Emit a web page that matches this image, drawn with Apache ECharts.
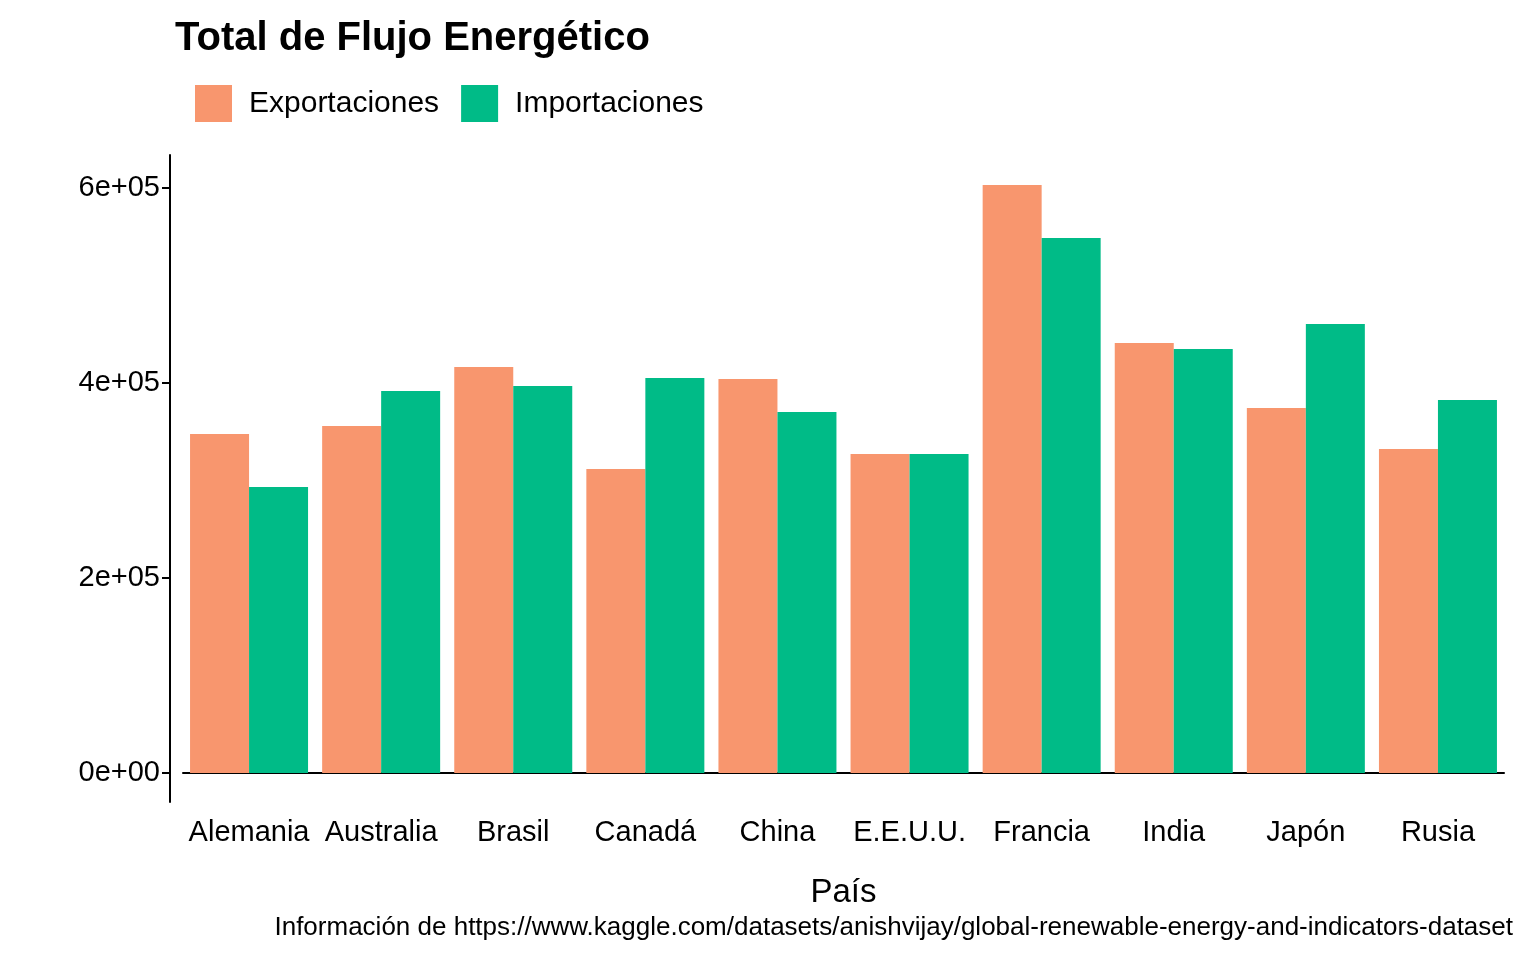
<!DOCTYPE html>
<html>
<head>
<meta charset="utf-8">
<script src="https://cdn.jsdelivr.net/npm/echarts@6/dist/echarts.min.js"></script>
<style>html,body{margin:0;background:#fff}#chart{width:1536px;height:960px}</style>
</head>
<body>
<div id="chart"></div>
<script>
// datos
const paises = ['Alemania', 'Australia', 'Brasil', 'Canadá', 'China', 'E.E.U.U.', 'Francia', 'India', 'Japón', 'Rusia']
const exportaciones = [347700, 355900, 416400, 311800, 404100, 327200, 603100, 441000, 374400, 332300]
const importaciones = [293300, 391800, 396900, 405100, 370300, 327200, 548700, 434900, 460500, 382600]
const yTicks = [0, 200000, 400000, 600000]

const font = 'Liberation Sans, Arial, sans-serif'
const chart = echarts.init(document.getElementById('chart'))

const sci = v => {
  if (v === 0) return '0e+00'
  const e = Math.floor(Math.log10(Math.abs(v)))
  const m = Math.round(v / Math.pow(10, e))
  return m + 'e+' + String(e).padStart(2, '0')
}

chart.setOption({
  animation: false,
  textStyle: { fontFamily: font, color: '#000' },
  title: [
    {
      text: 'Total de Flujo Energético', left: 170, top: 14,
      textStyle: { fontFamily: font, fontSize: 40, fontWeight: 'bold', color: '#000' }
    },
    {
      text: 'Información de https://www.kaggle.com/datasets/anishvijay/global-renewable-energy-and-indicators-dataset',
      right: 18, top: 910,
      textStyle: { fontFamily: font, fontSize: 26, fontWeight: 'normal', color: '#000' }
    }
  ],
  legend: {
    left: 190, top: 80, itemWidth: 37, itemHeight: 37, itemGap: 22,
    icon: 'rect',
    textStyle: { fontFamily: font, fontSize: 30, color: '#000', padding: [0, 0, 0, 12] },
    data: ['Exportaciones', 'Importaciones']
  },
  grid: { left: 183, right: 32, top: 155, bottom: 158 },
  xAxis: {
    type: 'category',
    data: paises,
    name: 'País',
    nameLocation: 'middle',
    nameGap: 74,
    nameTextStyle: { fontFamily: font, fontSize: 33, color: '#000' },
    axisLine: { lineStyle: { color: '#000', width: 2 } },
    axisTick: { alignWithLabel: true, length: 8, lineStyle: { color: '#000', width: 2 } },
    axisLabel: { fontFamily: font, fontSize: 29, color: '#000', margin: 16, interval: 0 }
  },
  yAxis: {
    type: 'value',
    min: -29700,
    max: 633800,
    offset: 13,
    splitLine: { show: false },
    axisLine: { show: true, lineStyle: { color: '#000', width: 2 } },
    axisTick: { show: true, length: 8, customValues: yTicks, lineStyle: { color: '#000', width: 2 } },
    axisLabel: { fontFamily: font, fontSize: 29, color: '#000', margin: 10, customValues: yTicks, formatter: sci }
  },
  series: [
    {
      name: 'Exportaciones', type: 'bar', data: exportaciones,
      barWidth: 59, barGap: '0%', itemStyle: { color: '#F8966E' }
    },
    {
      name: 'Importaciones', type: 'bar', data: importaciones,
      barWidth: 59, barGap: '0%', itemStyle: { color: '#00BB87' }
    }
  ]
})
</script>
</body>
</html>
